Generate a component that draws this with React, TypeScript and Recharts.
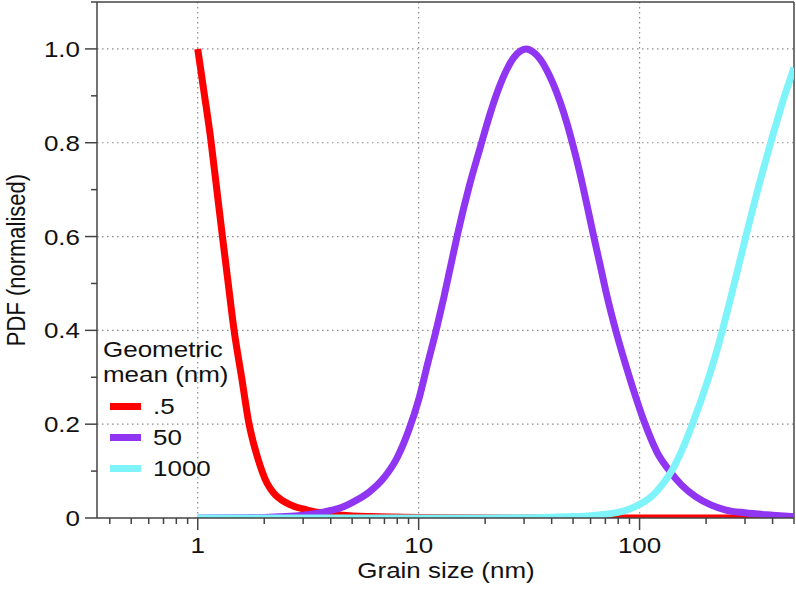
import React from "react"
import { LineChart, Line, XAxis, YAxis, CartesianGrid, ReferenceLine, Legend } from "recharts"

// grain size (nm) and normalised PDF
const redX = [1, 1.07, 1.145, 1.22, 1.293, 1.37, 1.459, 1.58, 1.705, 1.86, 2.06, 2.21, 2.4, 2.63, 3.13, 3.72, 4.5, 6, 10, 30, 100, 500]
const redY = [1.0, 0.905, 0.808, 0.7, 0.601, 0.505, 0.402, 0.3, 0.202, 0.131, 0.074, 0.053, 0.038, 0.028, 0.017, 0.01, 0.006, 0.003, 0.001, 0, 0, 0]

const purpleX = [1, 1.5, 2, 2.5, 3, 3.5, 4, 4.5, 5, 6, 7, 8, 9, 10, 11, 12, 13, 14, 15, 17, 19, 21, 23, 25, 27, 29, 30.8, 33.1, 35.5, 38, 40.7, 43.6, 46.8, 50.1, 53.7, 57.5, 61.7, 66.1, 70.8, 78.5, 90, 105, 120, 137, 155, 180, 210, 246, 300, 400, 500]
const purpleY = [0, 0.0005, 0.001, 0.003, 0.006, 0.01, 0.016, 0.023, 0.033, 0.056, 0.087, 0.129, 0.186, 0.252, 0.33, 0.4, 0.47, 0.54, 0.605, 0.71, 0.79, 0.86, 0.915, 0.955, 0.982, 0.996, 1.0, 0.993, 0.978, 0.955, 0.925, 0.888, 0.843, 0.792, 0.735, 0.672, 0.605, 0.542, 0.478, 0.395, 0.3, 0.205, 0.14, 0.1, 0.07, 0.045, 0.028, 0.017, 0.011, 0.006, 0.003]

const cyanX = [1, 20, 30, 40, 50, 60, 70, 80, 90, 100, 110, 120, 130, 140, 155, 174, 205, 220, 238, 255, 270, 303, 345, 393, 443, 500]
const cyanY = [0, 0, 0.0005, 0.0015, 0.003, 0.005, 0.008, 0.012, 0.019, 0.029, 0.041, 0.058, 0.078, 0.101, 0.143, 0.202, 0.298, 0.345, 0.403, 0.458, 0.505, 0.601, 0.705, 0.801, 0.885, 0.96]

const seriesNames = [".5", "50", "1000"]
const seriesColors = ["#ff0000", "#9035f2", "#7ff3fa"]

const xMajorTicks = [1, 10, 100]
const xTickLabels = ["1", "10", "100"]
const xMinorTicks = [0.4, 0.5, 0.6, 0.7, 0.8, 0.9, 2, 3, 4, 5, 6, 7, 8, 9, 20, 30, 40, 50, 60, 70, 80, 90, 200, 300, 400, 500]

const yMajorTicks = [0, 0.2, 0.4, 0.6, 0.8, 1.0]
const yTickLabels = ["0", "0.2", "0.4", "0.6", "0.8", "1.0"]
const yMinorTicks = [0.1, 0.3, 0.5, 0.7, 0.9, 1.1]

const toPoints = (xs: number[], ys: number[]) => xs.map((x, i) => ({ x, y: ys[i] }))
const seriesData = [toPoints(redX, redY), toPoints(purpleX, purpleY), toPoints(cyanX, cyanY)]

const FONT = '"Liberation Sans", Arial, Helvetica, sans-serif'
const STRETCH = 1.18 // the source figure is a little wider than tall
const AXIS = "#444"
const TEXT = "#111"

function XTick(props: any) {
  const { x, y, payload } = props
  const i = xMajorTicks.indexOf(payload.value)
  const major = i >= 0
  return (
    <g>
      <line x1={x} x2={x} y1={y} y2={y + (major ? 12 : 6)} stroke={AXIS} strokeWidth={1.5} />
      {major && (
        <text
          transform={`translate(${x}, ${y + 35}) scale(${STRETCH}, 1)`}
          textAnchor="middle"
          fontFamily={FONT}
          fontSize={22}
          fill={TEXT}
        >
          {xTickLabels[i]}
        </text>
      )}
    </g>
  )
}

function YTick(props: any) {
  const { x, y, payload } = props
  const i = yMajorTicks.indexOf(payload.value)
  const major = i >= 0
  return (
    <g>
      <line x1={x - (major ? 12 : 6)} x2={x} y1={y} y2={y} stroke={AXIS} strokeWidth={1.5} />
      {major && (
        <text
          transform={`translate(${x - 17}, ${y + 8}) scale(${STRETCH}, 1)`}
          textAnchor="end"
          fontFamily={FONT}
          fontSize={22}
          fill={TEXT}
        >
          {yTickLabels[i]}
        </text>
      )}
    </g>
  )
}

const stretched: React.CSSProperties = {
  display: "inline-block",
  transform: `scaleX(${STRETCH})`,
  transformOrigin: "left center",
  whiteSpace: "nowrap",
}

function LegendBox(props: any) {
  // keep the series order, recharts sorts the payload by name
  const items = [...(props.payload || [])].sort(
    (a: any, b: any) => seriesNames.indexOf(a.value) - seriesNames.indexOf(b.value)
  )
  return (
    <div style={{ fontFamily: FONT, fontSize: 22, color: TEXT, lineHeight: "25px" }}>
      <div><span style={stretched}>Geometric</span></div>
      <div><span style={stretched}>mean (nm)</span></div>
      <div style={{ marginTop: 3.5 }}>
        {items.map((entry: any) => (
          <div key={entry.value} style={{ display: "flex", alignItems: "center", height: 31, lineHeight: "31px" }}>
            <span style={{ marginLeft: 7, width: 31, height: 7, background: entry.color, display: "inline-block" }} />
            <span style={{ ...stretched, marginLeft: 12 }}>{entry.value}</span>
          </div>
        ))}
      </div>
    </div>
  )
}

export default function App() {
  return (
    <div style={{ position: "absolute", left: 0, top: 0, width: 796, height: 598, background: "#fff" }}>
      <LineChart width={796} height={598} margin={{ top: 2, right: 2, left: 0, bottom: 0 }}>
        <CartesianGrid
          verticalValues={xMajorTicks}
          horizontalValues={yMajorTicks.slice(1)}
          stroke="#8a8a8a"
          strokeWidth={1.2}
          strokeDasharray="1.5 3.5"
        />
        <XAxis
          dataKey="x"
          type="number"
          scale="log"
          domain={[0.35, 500]}
          allowDataOverflow
          ticks={[...xMinorTicks, ...xMajorTicks].sort((a, b) => a - b)}
          interval={0}
          tick={XTick}
          tickLine={false}
          tickSize={0}
          tickMargin={0}
          axisLine={{ stroke: AXIS, strokeWidth: 1.5 }}
          height={80}
        />
        <YAxis
          type="number"
          domain={[0, 1.1]}
          allowDataOverflow
          ticks={[...yMajorTicks, ...yMinorTicks].sort((a, b) => a - b)}
          interval={0}
          tick={YTick}
          tickLine={false}
          tickSize={0}
          tickMargin={0}
          axisLine={{ stroke: AXIS, strokeWidth: 1.5 }}
          width={97}
        />
        <ReferenceLine y={1.1} stroke={AXIS} strokeWidth={1.5} />
        <ReferenceLine x={500} stroke={AXIS} strokeWidth={1.5} />
        {seriesData.map((data, i) => (
          <Line
            key={seriesNames[i]}
            data={data}
            dataKey="y"
            name={seriesNames[i]}
            type="monotone"
            stroke={seriesColors[i]}
            strokeWidth={7}
            dot={false}
            activeDot={false}
            isAnimationActive={false}
          />
        ))}
        <Legend
          layout="vertical"
          align="center"
          verticalAlign="middle"
          content={LegendBox}
          wrapperStyle={{ left: 103, top: 337, width: 220 }}
        />
        <text
          transform={`translate(446, 578) scale(${STRETCH}, 1)`}
          textAnchor="middle"
          fontFamily={FONT}
          fontSize={22}
          fill={TEXT}
        >
          Grain size (nm)
        </text>
        <text
          transform={`translate(25, 260) scale(${STRETCH}, 1) rotate(-90)`}
          textAnchor="middle"
          fontFamily={FONT}
          fontSize={22}
          fill={TEXT}
        >
          PDF (normalised)
        </text>
      </LineChart>
    </div>
  )
}
